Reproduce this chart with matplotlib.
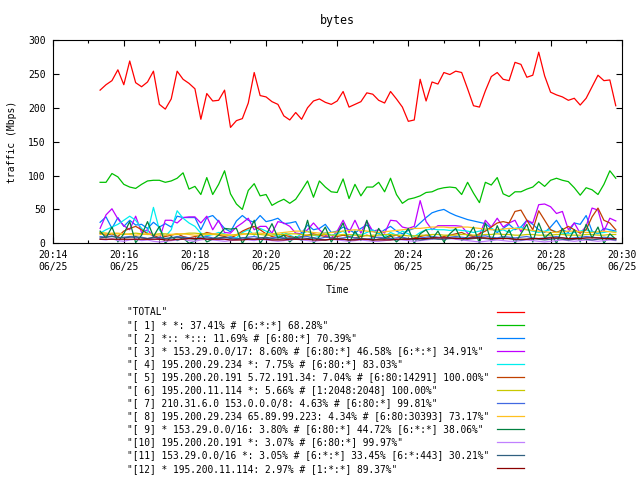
import numpy as np
import pandas as pd
import matplotlib
matplotlib.use("Agg")
import matplotlib.pyplot as plt
import matplotlib.dates as mdates

plt.rcParams['font.family'] = ['DejaVu Sans Mono']
plt.rcParams['font.size'] = 7.0

# samples every 10 s
total = [226, 234, 240, 256, 234, 269, 237, 231, 238, 254,
         205, 198, 213, 254, 242, 236, 228, 183, 221, 210,
         211, 226, 171, 181, 184, 207, 252, 218, 216, 209,
         205, 188, 182, 193, 183, 200, 210, 213, 208, 205,
         210, 224, 201, 205, 209, 222, 220, 211, 207, 224,
         213, 201, 180, 182, 242, 210, 238, 235, 252, 249,
         254, 252, 228, 203, 201, 225, 246, 252, 242, 240,
         267, 264, 245, 248, 282, 247, 223, 219, 216, 211,
         214, 204, 214, 231, 248, 240, 241, 203]
s1 = [90, 90, 103, 98, 87, 83, 81, 87, 92, 93,
      93, 90, 92, 96, 104, 80, 84, 72, 97, 72,
      87, 107, 73, 58, 50, 78, 88, 70, 72, 56,
      61, 65, 59, 65, 78, 92, 68, 92, 83, 76,
      75, 95, 66, 87, 70, 83, 83, 90, 76, 96,
      72, 59, 65, 67, 70, 75, 76, 80, 82, 83,
      82, 72, 90, 74, 60, 90, 86, 97, 73, 69,
      76, 76, 80, 83, 91, 84, 93, 96, 93, 91,
      82, 71, 82, 79, 72, 87, 107, 96]
s2 = [31, 39, 22, 38, 25, 34, 27, 28, 22, 31,
      24, 29, 24, 40, 38, 38, 38, 20, 38, 41,
      32, 22, 17, 33, 41, 34, 31, 41, 32, 34,
      37, 29, 30, 32, 15, 27, 20, 22, 28, 16,
      18, 24, 20, 15, 22, 27, 18, 14, 20, 25,
      18, 14, 19, 22, 30, 38, 45, 48, 50, 45,
      41, 38, 35, 33, 31, 29, 22, 16, 22, 28,
      20, 24, 34, 28, 20, 16, 24, 34, 20, 16,
      30, 28, 41, 18, 14, 22, 20, 18]
s3 = [22, 42, 51, 36, 26, 20, 40, 16, 20, 10,
      6, 34, 34, 30, 38, 39, 39, 30, 40, 20,
      34, 16, 15, 24, 30, 37, 20, 25, 25, 15,
      32, 30, 25, 15, 14, 20, 30, 20, 12, 8,
      18, 34, 16, 34, 15, 33, 18, 20, 15, 34,
      33, 24, 22, 25, 63, 32, 20, 26, 26, 26,
      26, 25, 15, 10, 12, 34, 24, 37, 24, 30,
      34, 17, 34, 30, 57, 58, 54, 44, 47, 20,
      30, 15, 25, 52, 49, 18, 37, 33]
s4 = [15, 20, 24, 28, 34, 40, 34, 22, 15, 53,
      20, 10, 20, 48, 37, 30, 25, 15, 11, 13,
      16, 14, 10, 8, 16, 20, 12, 22, 18, 14,
      10, 16, 12, 8, 14, 18, 12, 10, 16, 12,
      14, 18, 10, 14, 12, 16, 20, 14, 10, 16,
      12, 18, 14, 10, 16, 20, 21, 20, 20, 19,
      20, 19, 18, 16, 18, 20, 22, 18, 20, 16,
      22, 24, 20, 18, 16, 18, 20, 17, 15, 14,
      16, 18, 20, 17, 15, 16, 18, 17]
s5 = [15, 12, 14, 10, 18, 22, 25, 20, 14, 12,
      8, 10, 12, 14, 10, 8, 10, 12, 16, 14,
      12, 10, 8, 12, 18, 22, 25, 20, 14, 10,
      8, 12, 10, 8, 10, 12, 14, 12, 10, 8,
      10, 12, 10, 8, 10, 12, 10, 8, 6, 10,
      12, 8, 6, 8, 10, 12, 10, 8, 10, 12,
      14, 16, 12, 10, 14, 18, 24, 30, 32, 30,
      47, 49, 34, 20, 48, 34, 20, 16, 20, 25,
      20, 15, 20, 39, 52, 34, 30, 20]
s6 = [16, 15, 14, 14, 13, 14, 15, 14, 13, 13,
      14, 14, 13, 13, 14, 15, 15, 14, 14, 13,
      13, 12, 12, 13, 14, 14, 13, 13, 12, 12,
      13, 13, 14, 14, 13, 12, 12, 13, 13, 12,
      12, 13, 13, 12, 12, 11, 12, 12, 13, 13,
      12, 12, 11, 11, 12, 12, 13, 13, 12, 12,
      12, 13, 13, 12, 12, 13, 13, 14, 13, 13,
      12, 12, 13, 13, 12, 12, 12, 13, 13, 12,
      12, 12, 13, 13, 12, 12, 13, 13]
s7 = [10, 9, 11, 8, 9, 10, 8, 9, 7, 8,
      9, 7, 8, 10, 9, 8, 7, 9, 10, 8,
      7, 8, 9, 7, 8, 9, 10, 8, 7, 8,
      9, 8, 7, 8, 9, 10, 8, 7, 9, 8,
      7, 8, 9, 8, 7, 6, 8, 9, 8, 7,
      8, 9, 7, 6, 8, 9, 10, 9, 8, 9,
      10, 9, 8, 9, 10, 11, 9, 8, 10, 9,
      8, 9, 10, 8, 7, 8, 9, 10, 8, 7,
      8, 9, 10, 9, 8, 9, 8, 7]
s8 = [13, 14, 15, 15, 14, 13, 12, 13, 14, 13,
      12, 12, 13, 14, 14, 13, 12, 12, 13, 14,
      14, 13, 12, 12, 13, 14, 15, 15, 14, 14,
      15, 16, 17, 18, 18, 17, 16, 15, 15, 16,
      17, 18, 19, 20, 19, 18, 17, 16, 17, 18,
      19, 20, 21, 22, 22, 23, 24, 24, 24, 23,
      23, 24, 24, 23, 22, 21, 20, 20, 21, 22,
      22, 21, 20, 19, 18, 17, 16, 16, 17, 18,
      18, 17, 16, 16, 17, 18, 17, 16]
s9 = [18, 8, 24, 2, 14, 32, 1, 12, 32, 10,
      25, 0, 10, 4, 8, 0, 3, 14, 2, 6,
      12, 22, 21, 22, 0, 14, 34, 0, 12, 29,
      8, 12, 2, 10, 4, 34, 0, 10, 24, 2,
      14, 30, 0, 18, 4, 34, 2, 22, 8, 12,
      2, 10, 22, 0, 14, 20, 6, 18, 2, 14,
      22, 4, 10, 24, 0, 30, 2, 26, 6, 20,
      0, 14, 28, 2, 30, 8, 16, 0, 22, 4,
      20, 2, 28, 8, 24, 0, 14, 6]
s10 = [6, 5, 7, 4, 3, 5, 6, 4, 5, 3,
       2, 3, 4, 5, 6, 4, 3, 5, 6, 5,
       4, 3, 4, 5, 6, 5, 4, 6, 5, 4,
       3, 4, 5, 6, 5, 4, 3, 4, 5, 6,
       5, 4, 3, 4, 5, 4, 3, 3, 4, 5,
       6, 5, 4, 3, 4, 5, 6, 8, 8, 7,
       6, 5, 4, 3, 2, 3, 4, 5, 4, 3,
       3, 4, 5, 4, 3, 2, 3, 4, 5, 4,
       3, 4, 5, 4, 3, 4, 5, 4]
s11 = [8, 9, 10, 9, 8, 9, 10, 8, 7, 9,
       8, 7, 8, 9, 8, 7, 6, 7, 8, 7,
       8, 9, 7, 6, 8, 7, 6, 8, 9, 7,
       6, 7, 8, 7, 6, 7, 8, 6, 5, 6,
       7, 6, 5, 6, 7, 6, 5, 6, 7, 6,
       5, 6, 7, 6, 5, 6, 7, 6, 6, 7,
       8, 7, 6, 7, 8, 7, 6, 7, 8, 7,
       6, 5, 6, 7, 6, 5, 6, 7, 6, 5,
       6, 7, 6, 5, 6, 7, 6, 5]
s12 = [6, 6, 6, 6, 6, 6, 6, 6, 6, 6,
       6, 5, 5, 6, 6, 7, 7, 7, 6, 6,
       6, 6, 5, 5, 5, 6, 6, 6, 6, 5,
       5, 5, 6, 6, 6, 6, 5, 5, 5, 6,
       6, 6, 5, 5, 6, 6, 5, 5, 5, 5,
       6, 6, 6, 7, 7, 7, 8, 8, 8, 8,
       7, 7, 7, 8, 8, 8, 7, 7, 7, 7,
       6, 6, 6, 7, 7, 7, 8, 8, 8, 7,
       7, 7, 8, 8, 8, 7, 7, 7]

labels = ['"TOTAL"',
          '"[ 1] * *: 37.41% # [6:*:*] 68.28%"',
          '"[ 2] *:: *::: 11.69% # [6:80:*] 70.39%"',
          '"[ 3] * 153.29.0.0/17: 8.60% # [6:80:*] 46.58% [6:*:*] 34.91%"',
          '"[ 4] 195.200.29.234 *: 7.75% # [6:80:*] 83.03%"',
          '"[ 5] 195.200.20.191 5.72.191.34: 7.04% # [6:80:14291] 100.00%"',
          '"[ 6] 195.200.11.114 *: 5.66% # [1:2048:2048] 100.00%"',
          '"[ 7] 210.31.6.0 153.0.0.0/8: 4.63% # [6:80:*] 99.81%"',
          '"[ 8] 195.200.29.234 65.89.99.223: 4.34% # [6:80:30393] 73.17%"',
          '"[ 9] * 153.29.0.0/16: 3.80% # [6:80:*] 44.72% [6:*:*] 38.06%"',
          '"[10] 195.200.20.191 *: 3.07% # [6:80:*] 99.97%"',
          '"[11] 153.29.0.0/16 *: 3.05% # [6:*:*] 33.45% [6:*:443] 30.21%"',
          '"[12] * 195.200.11.114: 2.97% # [1:*:*] 89.37%"']
colors = ['#ff0000', '#00c000', '#0080ff', '#c000ff', '#00eeee', '#c04000',
          '#c8c800', '#4169e1', '#ffc020', '#008040', '#c080ff', '#306080',
          '#8b0000']

series = [total, s1, s2, s3, s4, s5, s6, s7, s8, s9, s10, s11, s12]
times = pd.date_range("2014-06-25 20:15:20", periods=len(total), freq="10s")

fig = plt.figure(figsize=(6.4, 4.8), dpi=100)
ax = fig.add_axes([0.0823, 0.4931, 0.8891, 0.4236])

# pad labels so text is left aligned and samples line up (monospace)
width = max(len(s) for s in labels)
for vals, lab, col in zip(series, labels, colors):
    ax.plot(times, vals, color=col, lw=0.9, label=lab.ljust(width))

ax.set_xlim(pd.Timestamp("2014-06-25 20:14"), pd.Timestamp("2014-06-25 20:30"))
ax.set_ylim(0, 300)
ax.set_yticks(range(0, 301, 50))
ax.xaxis.set_major_locator(mdates.MinuteLocator(byminute=range(0, 60, 2)))
ax.xaxis.set_minor_locator(mdates.MinuteLocator())
ax.xaxis.set_major_formatter(mdates.DateFormatter('%H:%M\n%m/%d'))
ax.tick_params(which='both', direction='in', top=True, right=True, width=0.8)
ax.tick_params(which='major', length=4)
ax.tick_params(which='minor', length=2.5)
ax.tick_params(axis='x', pad=5)
ax.tick_params(axis='y', pad=5)
for sp in ax.spines.values():
    sp.set_linewidth(0.8)

ax.set_title('bytes', pad=11.5)
ax.set_ylabel('traffic (Mbps)')
ax.yaxis.set_label_coords(-0.063, 0.5)
ax.set_xlabel('Time')
ax.xaxis.set_label_coords(0.5, -0.205)

fig.legend(loc='upper left', bbox_to_anchor=(127 / 640, 1 - 307 / 480),
           frameon=False, borderpad=0, borderaxespad=0, handlelength=2.85,
           handletextpad=0.82, labelspacing=0.32, markerfirst=False,
           prop={'family': 'DejaVu Sans Mono', 'size': 6.87})

fig.savefig('out.png', dpi=100)
